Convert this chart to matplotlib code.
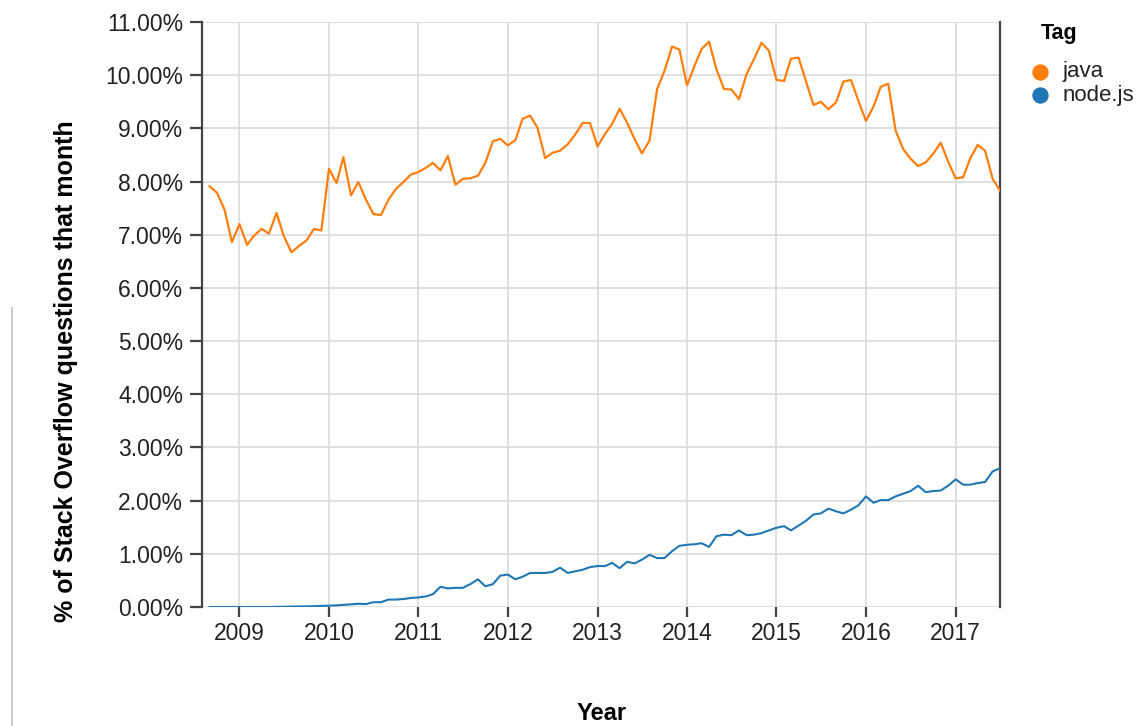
import matplotlib.pyplot as plt
import matplotlib.dates as mdates
from matplotlib.lines import Line2D
import pandas as pd

plt.rcParams['font.family'] = ['Liberation Sans', 'DejaVu Sans']

# monthly dates, Sep 2008 .. Jul 2017
months = pd.date_range('2008-09-01', '2017-07-01', freq='MS')

# % of Stack Overflow questions per month
java = [7.91, 7.79, 7.47, 6.86,
        7.20, 6.81, 6.98, 7.11, 7.02, 7.41, 6.97, 6.67, 6.79, 6.89, 7.11, 7.08,
        8.24, 7.97, 8.46, 7.74, 7.99, 7.66, 7.39, 7.37, 7.66, 7.86, 7.99, 8.13,
        8.18, 8.26, 8.35, 8.21, 8.48, 7.94, 8.05, 8.06, 8.11, 8.35, 8.76, 8.80,
        8.68, 8.78, 9.18, 9.24, 9.01, 8.44, 8.54, 8.58, 8.70, 8.88, 9.10, 9.10,
        8.66, 8.90, 9.08, 9.37, 9.11, 8.80, 8.53, 8.77, 9.74, 10.08, 10.54, 10.48,
        9.81, 10.18, 10.49, 10.63, 10.11, 9.74, 9.73, 9.55, 10.02, 10.30, 10.61, 10.46,
        9.91, 9.89, 10.31, 10.33, 9.89, 9.44, 9.50, 9.36, 9.49, 9.88, 9.91, 9.52,
        9.14, 9.41, 9.78, 9.84, 8.96, 8.61, 8.43, 8.29, 8.36, 8.52, 8.73, 8.38,
        8.06, 8.08, 8.43, 8.69, 8.58, 8.05, 7.83]

nodejs = [0.0, 0.0, 0.0, 0.0,
          0.0, 0.0, 0.0, 0.0, 0.0, 0.003, 0.005, 0.008, 0.01, 0.012, 0.015, 0.02,
          0.025, 0.03, 0.04, 0.05, 0.06, 0.055, 0.09, 0.09, 0.14, 0.14, 0.15, 0.17,
          0.18, 0.20, 0.24, 0.38, 0.35, 0.36, 0.36, 0.43, 0.52, 0.39, 0.43, 0.59,
          0.61, 0.52, 0.57, 0.64, 0.64, 0.64, 0.66, 0.74, 0.64, 0.67, 0.70, 0.75,
          0.77, 0.77, 0.83, 0.73, 0.85, 0.82, 0.89, 0.98, 0.92, 0.92, 1.05, 1.15,
          1.17, 1.18, 1.20, 1.13, 1.33, 1.36, 1.35, 1.44, 1.35, 1.36, 1.39, 1.44,
          1.49, 1.52, 1.44, 1.53, 1.62, 1.74, 1.76, 1.85, 1.80, 1.76, 1.83, 1.91,
          2.08, 1.96, 2.01, 2.01, 2.08, 2.13, 2.18, 2.28, 2.16, 2.18, 2.19, 2.28,
          2.40, 2.30, 2.30, 2.33, 2.35, 2.55, 2.61]

tags = ['java', 'node.js']
colors = ['#ff7f0e', '#1f77b4']

W, H = 1145, 726
fig = plt.figure(figsize=(W / 100, H / 100), dpi=100)
ax = fig.add_axes([202 / W, 1 - 607 / H, 798 / W, 585 / H])

ax.plot(months, java, color=colors[0], lw=1.6, zorder=3)
ax.plot(months, nodejs, color=colors[1], lw=1.5, zorder=3)

ax.set_xlim(pd.Timestamp('2008-08-01'), pd.Timestamp('2017-07-01'))
ax.set_ylim(0, 11)
ax.set_yticks(range(0, 12))
ax.yaxis.set_major_formatter(lambda v, p: f'{v:.2f}%')
ax.xaxis.set_major_locator(mdates.YearLocator())
ax.xaxis.set_major_formatter(mdates.DateFormatter('%Y'))

ax.grid(True, color='#dddddd', lw=1.3, zorder=0)
ax.set_axisbelow(True)
for s in ['top', 'bottom']:
    ax.spines[s].set_visible(False)
for s in ['left', 'right']:
    ax.spines[s].set_color('#444444')
    ax.spines[s].set_linewidth(1.6)
ax.tick_params(axis='y', length=8.5, width=1.6, color='#444444', pad=5,
               labelsize=16.5, labelcolor='#222222')
ax.tick_params(axis='x', length=7.5, width=1.6, color='#444444', pad=3.5,
               labelsize=16.5, labelcolor='#222222')

fig.text(66 / W, 1 - 371 / H, '% of Stack Overflow questions that month',
         rotation=90, ha='center', va='center', fontsize=18, fontweight='bold')
fig.text(602 / W, 1 - 713 / H, 'Year', ha='center', va='center',
         fontsize=17, fontweight='bold')

# legend
fig.text(1041 / W, 1 - 33 / H, 'Tag', ha='left', va='center',
         fontsize=15.5, fontweight='bold')
for i, (t, c) in enumerate(zip(tags, colors)):
    y = 1 - (72 + 23 * i) / H
    fig.add_artist(Line2D([1040 / W], [y], marker='o', ls='', color=c,
                          markersize=10.8, transform=fig.transFigure))
    fig.text(1063 / W, y, t, ha='left', va='center', fontsize=16,
             color='#222222')

# thin grey rule at the left edge
fig.add_artist(Line2D([12 / W, 12 / W], [1 - 308 / H, 0], color='#cccccc',
                      lw=1.5, transform=fig.transFigure))

fig.savefig('out.png', dpi=100)
